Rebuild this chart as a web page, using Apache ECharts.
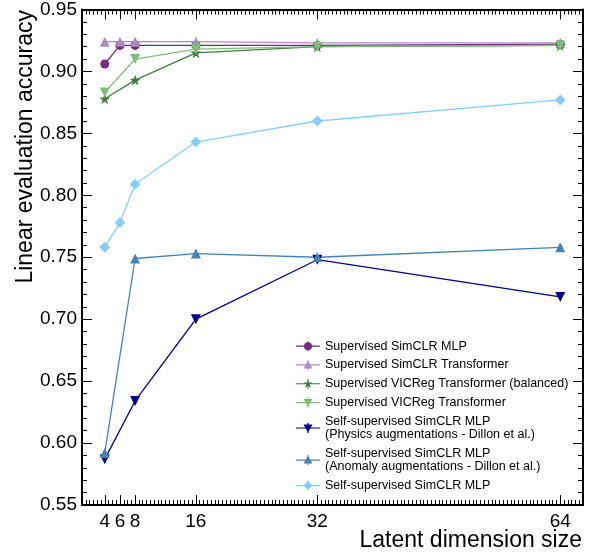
<!DOCTYPE html>
<html>
<head>
	<meta charset="utf-8">
	<title>linear eval</title>
	<script src="https://cdn.jsdelivr.net/npm/echarts@6/dist/echarts.min.js"></script>
	<style>
		html,body{margin:0;padding:0;background:#fff;}
		#main{width:597px;height:555px;}
	</style>
</head>
<body>
	<div id="main"></div>
</body>
<script type="text/javascript">
// latent dimension sizes
var dimsAll = [4, 6, 8, 16, 32, 64]
var dimsNo6 = [4, 8, 16, 32, 64]
var xTickLabels = [4, 6, 8, 16, 32, 64]

// accuracies
var supSimclrMlp = [0.906, 0.921, 0.921, 0.921, 0.921, 0.922]
var supSimclrTrans = [0.924, 0.924, 0.924, 0.924, 0.923, 0.923]
var supVicregBal = [0.878, 0.893, 0.915, 0.920, 0.921]
var supVicreg = [0.883, 0.910, 0.918, 0.920, 0.921]
var selfPhysics = [0.587, 0.634, 0.700, 0.748, 0.718]
var selfAnomaly = [0.592, 0.749, 0.753, 0.750, 0.758]
var selfSimclrMlp = [0.758, 0.778, 0.809, 0.843, 0.860, 0.877]

var FONT = '"Liberation Sans", Arial, sans-serif'

function pairs(xs, ys){
    var out = []
    for(var i=0;i<xs.length;i++) out.push([xs[i], ys[i]])
    return out
}

// legend icons: errorbar cross + marker, drawn in a 24x10 box
var bars = 'M0,4.4 H24 V5.6 H0 Z M11.4,0 H12.6 V10 H11.4 Z '
var icoCircle = 'path://' + bars + 'M12,1 A4,4 0 1,1 12,9 A4,4 0 1,1 12,1 Z'
var icoUp = 'path://' + bars + 'M12,0.5 L16.5,8.5 L7.5,8.5 Z'
var icoDown = 'path://' + bars + 'M7.5,1.5 L16.5,1.5 L12,9.5 Z'
var icoDiamond = 'path://' + bars + 'M12,0.5 L16.5,5 L12,9.5 L7.5,5 Z'
var icoStar = 'path://' + bars + 'M12,0.4 L13.12,3.66 L16.57,3.72 L13.81,5.79 L14.82,9.08 L12,7.1 L9.18,9.08 L10.19,5.79 L7.43,3.72 L10.88,3.66 Z'

var starPath = 'path://M50,0 L61.8,34.5 L97.6,34.5 L68.5,55.9 L79.4,90.5 L50,69.1 L20.6,90.5 L31.5,55.9 L2.4,34.5 L38.2,34.5 Z'

var seriesDefs = [
    {name:'Supervised SimCLR MLP', x:dimsAll, y:supSimclrMlp, color:'#762a83', symbol:'circle', size:9, rot:0, icon:icoCircle},
    {name:'Supervised SimCLR Transformer', x:dimsAll, y:supSimclrTrans, color:'#af8dc3', symbol:'triangle', size:10, rot:0, icon:icoUp},
    {name:'Supervised VICReg Transformer (balanced)', x:dimsNo6, y:supVicregBal, color:'#3f7f3f', symbol:starPath, size:11, rot:0, icon:icoStar},
    {name:'Supervised VICReg Transformer', x:dimsNo6, y:supVicreg, color:'#7fbf7b', symbol:'triangle', size:10, rot:180, icon:icoDown},
    {name:'Self-supervised SimCLR MLP\n(Physics augmentations - Dillon et al.)', x:dimsNo6, y:selfPhysics, color:'#00008b', symbol:'triangle', size:10, rot:180, icon:icoDown},
    {name:'Self-supervised SimCLR MLP\n(Anomaly augmentations - Dillon et al.)', x:dimsNo6, y:selfAnomaly, color:'#4682b4', symbol:'triangle', size:10, rot:0, icon:icoUp},
    {name:'Self-supervised SimCLR MLP', x:dimsAll, y:selfSimclrMlp, color:'#87cefa', symbol:'diamond', size:11, rot:0, icon:icoDiamond}
]

var series = []
var legendData = []
seriesDefs.forEach(function(d){
    series.push({
        name: d.name,
        type: 'line',
        xAxisIndex: 0,
        yAxisIndex: 0,
        data: pairs(d.x, d.y),
        symbol: d.symbol,
        symbolSize: d.size,
        symbolRotate: d.rot,
        showAllSymbol: true,
        animation: false,
        itemStyle: {color: d.color},
        lineStyle: {color: d.color, width: 1.3}
    })
    legendData.push({name: d.name, icon: d.icon})
})

var blackLine = {show:true, onZero:false, lineStyle:{color:'#000', width:2}}
var noLine = {show:false}
var tickStyle = {color:'#000', width:1}

var option = {
    animation: false,
    grid: {left:82, right:14, top:7, bottom:50, containLabel:false},
    legend: {
        data: legendData,
        orient: 'vertical',
        left: 296,
        top: 339.5,
        padding: 0,
        itemGap: 5.5,
        itemWidth: 24,
        itemHeight: 10,
        textStyle: {fontFamily: FONT, fontSize: 12.5, lineHeight: 13.3, color: '#000'}
    },
    xAxis: [
        // bottom: small ticks every 0.5
        {type:'value', min:1, max:67, interval:0.5, position:'bottom', axisLine:blackLine,
         axisTick:{show:true, inside:true, length:5, lineStyle:tickStyle},
         axisLabel:{show:false}, splitLine:{show:false}},
        // bottom: big ticks + labels at the dims
        {type:'value', min:1, max:67, position:'bottom', axisLine:noLine,
         axisTick:{show:true, inside:true, length:10, customValues:xTickLabels, lineStyle:tickStyle},
         axisLabel:{show:true, customValues:xTickLabels, fontFamily:FONT, fontSize:19, color:'#000', margin:7},
         splitLine:{show:false}},
        // top mirror
        {type:'value', min:1, max:67, interval:0.5, position:'top', axisLine:blackLine,
         axisTick:{show:true, inside:true, length:5, lineStyle:tickStyle},
         axisLabel:{show:false}, splitLine:{show:false}},
        {type:'value', min:1, max:67, position:'top', axisLine:noLine,
         axisTick:{show:true, inside:true, length:10, customValues:xTickLabels, lineStyle:tickStyle},
         axisLabel:{show:false}, splitLine:{show:false}}
    ],
    yAxis: [
        {type:'value', min:0.55, max:0.95, interval:0.05, position:'left', axisLine:blackLine,
         axisTick:{show:true, inside:true, length:10, lineStyle:tickStyle},
         minorTick:{show:true, splitNumber:5, length:5, lineStyle:tickStyle},
         axisLabel:{fontFamily:FONT, fontSize:19, color:'#000', margin:5,
            formatter:function(v){ return v.toFixed(2) }},
         splitLine:{show:false}},
        {type:'value', min:0.55, max:0.95, interval:0.05, position:'right', axisLine:blackLine,
         axisTick:{show:true, inside:true, length:10, lineStyle:tickStyle},
         minorTick:{show:true, splitNumber:5, length:5, lineStyle:tickStyle},
         axisLabel:{show:false}, splitLine:{show:false}}
    ],
    graphic: [
        {type:'text', x:26, y:10, rotation:Math.PI/2,
         style:{text:'Linear evaluation accuracy', font:'23px ' + FONT, fill:'#000', align:'right', verticalAlign:'middle'}},
        {type:'text', right:15, bottom:3,
         style:{text:'Latent dimension size', font:'23px ' + FONT, fill:'#000'}}
    ],
    series: series
}

var myChart = echarts.init(document.getElementById('main'), null, {renderer:'canvas'})
myChart.setOption(option)
</script>
</html>
